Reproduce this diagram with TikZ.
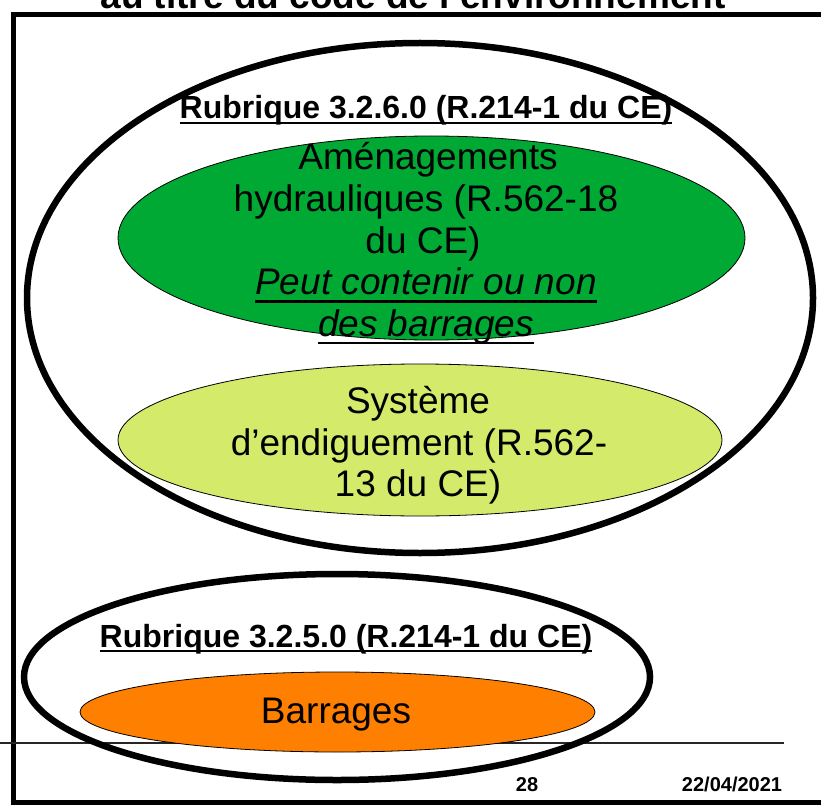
\documentclass[tikz,border=0pt]{standalone}
\usepackage{fontspec}
\setmainfont{Liberation Sans}
\usetikzlibrary{shapes.geometric}
\definecolor{hgreen}{RGB}{0,169,51}
\definecolor{hlime}{RGB}{212,234,107}
\definecolor{horange}{RGB}{255,128,0}
\begin{document}
\begin{tikzpicture}[x=1pt,y=-1pt,
  oval/.style={ellipse, inner sep=0pt, draw=black, line width=0.8pt},
  rub/.style={ellipse, inner sep=0pt, draw=black, line width=6.5pt},
  bigtxt/.style={font=\fontsize{37}{41.5}\selectfont, anchor=base, inner sep=0pt},
  rubtxt/.style={font=\bfseries\fontsize{32}{36}\selectfont, anchor=base, inner sep=0pt},
  foot/.style={font=\bfseries\fontsize{20}{22}\selectfont, anchor=base, inner sep=0pt},
  ul/.style={line width=2pt}
]
\useasboundingbox (0,0) rectangle (821,805);
\clip (0,0) rectangle (821,805);
% slide frame and footer
\node[font=\bfseries\fontsize{37}{40}\selectfont, anchor=base, inner sep=0pt] (title) at (413,9) {au titre du code de l’environnement};
\draw[line width=5pt] (13,15) rectangle (850,802);
\coordinate (fl) at (0,743);
\coordinate (fr) at (784,743);
\draw[line width=1.3pt, black!85] (fl) -- (fr);
\node[foot] (page) at (527,791) {28};
\node[foot] (date) at (732,791) {22/04/2021};
% Rubrique 3.2.6.0
\node[rub, minimum width=786pt, minimum height=510pt] (r326) at (420,298) {};
\node[oval, fill=hgreen, minimum width=627pt, minimum height=204pt] (amen) at (431.5,238) {};
\node[oval, fill=hlime, minimum width=604pt, minimum height=152pt] (endig) at (420,440) {};
\node[rubtxt] (t326) at (426,119) {Rubrique 3.2.6.0 (R.214-1 du CE)};
\draw[ul] ([yshift=-4pt]t326.base west) -- ([yshift=-4pt]t326.base east);
\node[bigtxt] (a1) at (428,170) {Aménagements};
\node[bigtxt] (a2) at (426,211.5) {hydrauliques (R.562-18};
\node[bigtxt] (a3) at (423,253) {du CE)};
\node[bigtxt, font=\itshape\fontsize{37}{41.5}\selectfont] (a4) at (426,294.5) {Peut contenir ou non};
\node[bigtxt, font=\itshape\fontsize{37}{41.5}\selectfont] (a5) at (426,336) {des barrages};
\draw[ul, line width=2.5pt] ([yshift=-7pt]a4.base west) -- ([yshift=-7pt]a4.base east);
\draw[ul, line width=2.5pt] ([yshift=-7pt]a5.base west) -- ([yshift=-7pt]a5.base east);
\node[bigtxt] (e1) at (418,413) {Système};
\node[bigtxt] (e2) at (419,455) {d’endiguement (R.562-};
\node[bigtxt] (e3) at (418,496) {13 du CE)};
% Rubrique 3.2.5.0
\node[rub, minimum width=626pt, minimum height=206pt] (r325) at (337,677) {};
\node[oval, fill=horange, minimum width=515pt, minimum height=80pt] (barr) at (337.5,712) {};
\node[rubtxt] (t325) at (346,647) {Rubrique 3.2.5.0 (R.214-1 du CE)};
\draw[ul] ([yshift=-4pt]t325.base west) -- ([yshift=-4pt]t325.base east);
\node[bigtxt] (b1) at (336,723) {Barrages};
\end{tikzpicture}
\end{document}
